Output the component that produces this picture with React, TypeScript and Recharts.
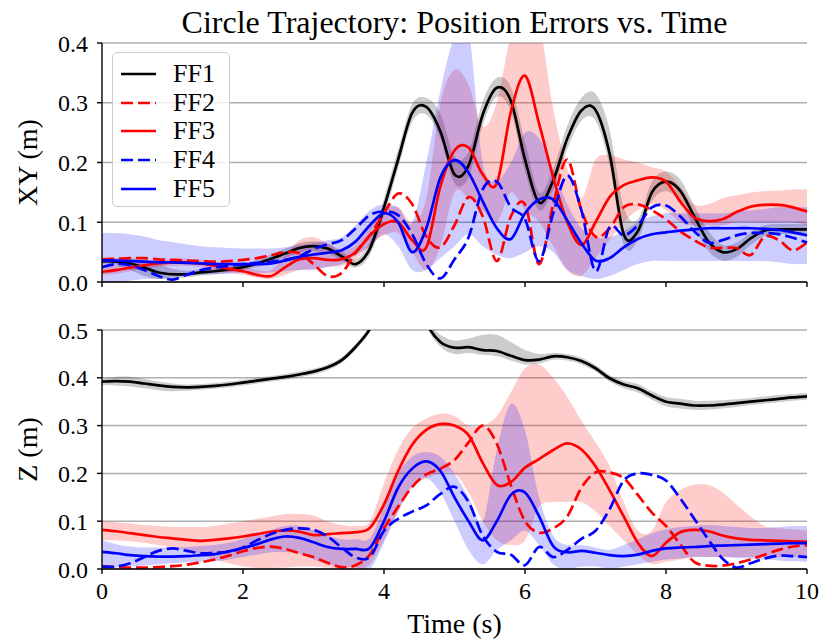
import React from 'react';
import { ComposedChart, Line, Area, XAxis, YAxis, CartesianGrid, Legend } from 'recharts';

const FONT = 'Liberation Serif, LiberationSerif, DejaVu Serif, Times New Roman, Times, Noto Serif, serif';

const times = [
  0, 0.2, 0.4, 0.6, 0.8, 1, 1.2, 1.4, 1.6, 1.8, 2, 2.2, 2.4, 2.6, 2.8, 3, 3.2, 3.4, 3.6, 3.8,
  4, 4.2, 4.4, 4.6, 4.8, 5, 5.2, 5.4, 5.6, 5.8, 6, 6.2, 6.4, 6.6, 6.8, 7, 7.2, 7.4, 7.6, 7.8,
  8, 8.2, 8.4, 8.6, 8.8, 9, 9.2, 9.4, 9.6, 9.8, 10,
];

const xTicks = [0, 2, 4, 6, 8, 10];
const xyTicks = [0, 0.1, 0.2, 0.3, 0.4];
const zTicks = [0, 0.1, 0.2, 0.3, 0.4, 0.5];

const seriesNames = ['FF1', 'FF2', 'FF3', 'FF4', 'FF5'];
const seriesColors = ['#000000', '#ff0000', '#ff0000', '#0000ff', '#0000ff'];
const seriesDashed = [false, true, false, true, false];

// ---------- XY errors ----------
const xyFF1 = [
  0.035, 0.034, 0.031, 0.024, 0.016, 0.013, 0.013, 0.016, 0.018, 0.021,
  0.025, 0.031, 0.039, 0.048, 0.057, 0.060, 0.056, 0.043, 0.030, 0.056,
  0.125, 0.205, 0.283, 0.293, 0.252, 0.180, 0.195, 0.280, 0.325, 0.303,
  0.205, 0.133, 0.170, 0.240, 0.287, 0.288, 0.215, 0.080, 0.085, 0.150,
  0.168, 0.153, 0.110, 0.068, 0.050, 0.055, 0.073, 0.086, 0.088, 0.088, 0.088,
];
const xyFF1Lo = [
  0.030, 0.028, 0.020, 0.010, 0.005, 0.006, 0.008, 0.011, 0.013, 0.016,
  0.020, 0.025, 0.032, 0.040, 0.049, 0.052, 0.048, 0.036, 0.024, 0.045,
  0.110, 0.190, 0.268, 0.280, 0.240, 0.165, 0.175, 0.262, 0.310, 0.285,
  0.185, 0.120, 0.155, 0.222, 0.270, 0.270, 0.195, 0.062, 0.070, 0.135,
  0.152, 0.135, 0.092, 0.052, 0.036, 0.042, 0.062, 0.077, 0.080, 0.080, 0.080,
];
const xyFF1Hi = [
  0.040, 0.040, 0.040, 0.037, 0.030, 0.022, 0.019, 0.021, 0.023, 0.026,
  0.030, 0.037, 0.046, 0.056, 0.065, 0.068, 0.064, 0.052, 0.038, 0.068,
  0.140, 0.222, 0.298, 0.308, 0.282, 0.210, 0.218, 0.302, 0.342, 0.326,
  0.235, 0.150, 0.190, 0.262, 0.308, 0.315, 0.255, 0.125, 0.105, 0.168,
  0.185, 0.172, 0.128, 0.086, 0.062, 0.066, 0.083, 0.095, 0.097, 0.097, 0.097,
];
const xyFF2 = [
  0.038, 0.039, 0.040, 0.040, 0.038, 0.037, 0.036, 0.035, 0.034, 0.035,
  0.037, 0.040, 0.045, 0.050, 0.048, 0.030, 0.010, 0.015, 0.050, 0.078,
  0.115, 0.148, 0.130, 0.076, 0.058, 0.095, 0.142, 0.110, 0.035, 0.110,
  0.130, 0.030, 0.130, 0.205, 0.120, 0.076, 0.090, 0.125, 0.130, 0.120,
  0.105, 0.085, 0.070, 0.058, 0.057, 0.057, 0.045, 0.076, 0.070, 0.053, 0.066,
];
const xyFF3 = [
  0.017, 0.020, 0.024, 0.028, 0.031, 0.033, 0.033, 0.031, 0.027, 0.022,
  0.018, 0.012, 0.010, 0.025, 0.038, 0.040, 0.037, 0.038, 0.050, 0.078,
  0.097, 0.100, 0.070, 0.058, 0.160, 0.220, 0.225, 0.180, 0.165, 0.285,
  0.345, 0.265, 0.175, 0.100, 0.062, 0.100, 0.142, 0.162, 0.170, 0.175,
  0.168, 0.135, 0.108, 0.102, 0.105, 0.117, 0.126, 0.129, 0.129, 0.125, 0.118,
];
const xyFF3Lo = [
  0.012, 0.014, 0.018, 0.022, 0.025, 0.027, 0.027, 0.025, 0.021, 0.016,
  0.012, 0.007, 0.005, 0.012, 0.020, 0.022, 0.025, 0.027, 0.038, 0.062,
  0.078, 0.082, 0.050, 0.020, 0.060, 0.150, 0.140, 0.120, 0.100, 0.150,
  0.120, 0.100, 0.060, 0.020, 0.010, 0.040, 0.070, 0.100, 0.120, 0.130,
  0.120, 0.100, 0.095, 0.095, 0.095, 0.100, 0.100, 0.100, 0.100, 0.100, 0.095,
];
const xyFF3Hi = [
  0.024, 0.027, 0.030, 0.034, 0.037, 0.039, 0.039, 0.037, 0.033, 0.028,
  0.025, 0.020, 0.020, 0.045, 0.070, 0.075, 0.065, 0.052, 0.062, 0.092,
  0.120, 0.125, 0.100, 0.140, 0.300, 0.355, 0.330, 0.260, 0.300, 0.410,
  0.430, 0.430, 0.290, 0.190, 0.140, 0.205, 0.212, 0.205, 0.200, 0.192,
  0.185, 0.160, 0.130, 0.130, 0.140, 0.145, 0.150, 0.152, 0.153, 0.155, 0.155,
];
const xyFF4 = [
  0.025, 0.030, 0.028, 0.020, 0.010, 0.004, 0.012, 0.020, 0.024, 0.027,
  0.030, 0.032, 0.034, 0.037, 0.043, 0.055, 0.063, 0.070, 0.090, 0.112,
  0.118, 0.112, 0.080, 0.030, 0.006, 0.038, 0.075, 0.155, 0.168, 0.125,
  0.105, 0.035, 0.115, 0.178, 0.120, 0.018, 0.092, 0.078, 0.095, 0.125,
  0.128, 0.110, 0.085, 0.066, 0.070, 0.078, 0.082, 0.082, 0.080, 0.074, 0.066,
];
const xyFF5 = [
  0.036, 0.036, 0.035, 0.034, 0.033, 0.033, 0.032, 0.031, 0.030, 0.030,
  0.030, 0.030, 0.031, 0.036, 0.042, 0.046, 0.049, 0.053, 0.068, 0.095,
  0.115, 0.100, 0.050, 0.090, 0.175, 0.204, 0.183, 0.135, 0.090, 0.072,
  0.115, 0.138, 0.138, 0.103, 0.065, 0.036, 0.040, 0.058, 0.072, 0.080,
  0.083, 0.086, 0.088, 0.090, 0.090, 0.090, 0.090, 0.089, 0.087, 0.083, 0.078,
];
const xyFF5Lo = [
  0.000, 0.000, 0.002, 0.005, 0.005, 0.008, 0.010, 0.012, 0.013, 0.014,
  0.015, 0.015, 0.016, 0.018, 0.020, 0.020, 0.025, 0.030, 0.045, 0.060,
  0.080, 0.060, 0.020, 0.020, 0.040, 0.060, 0.080, 0.060, 0.045, 0.040,
  0.050, 0.060, 0.050, 0.020, 0.010, 0.005, 0.010, 0.020, 0.030, 0.035,
  0.035, 0.035, 0.035, 0.035, 0.035, 0.035, 0.035, 0.035, 0.033, 0.030, 0.030,
];
const xyFF5Hi = [
  0.082, 0.082, 0.080, 0.076, 0.070, 0.067, 0.063, 0.060, 0.058, 0.057,
  0.056, 0.056, 0.056, 0.058, 0.062, 0.065, 0.070, 0.075, 0.095, 0.120,
  0.130, 0.125, 0.100, 0.200, 0.320, 0.410, 0.420, 0.200, 0.170, 0.200,
  0.250, 0.240, 0.190, 0.130, 0.090, 0.075, 0.075, 0.085, 0.100, 0.110,
  0.115, 0.115, 0.115, 0.115, 0.115, 0.118, 0.120, 0.122, 0.125, 0.125, 0.125,
];

// ---------- Z errors ----------
const zFF1 = [
  0.392, 0.393, 0.392, 0.388, 0.384, 0.381, 0.380, 0.381, 0.383, 0.386,
  0.390, 0.394, 0.398, 0.402, 0.407, 0.413, 0.422, 0.437, 0.465, 0.502,
  0.560, 0.600, 0.600, 0.515, 0.475, 0.463, 0.464, 0.458, 0.456, 0.446,
  0.437, 0.438, 0.445, 0.443, 0.435, 0.420, 0.399, 0.386, 0.378, 0.363,
  0.350, 0.346, 0.342, 0.342, 0.344, 0.347, 0.350, 0.353, 0.356, 0.359, 0.361,
];
const zFF1Lo = [
  0.385, 0.384, 0.382, 0.378, 0.374, 0.372, 0.373, 0.375, 0.377, 0.380,
  0.384, 0.388, 0.392, 0.396, 0.401, 0.407, 0.416, 0.431, 0.459, 0.496,
  0.554, 0.594, 0.594, 0.508, 0.465, 0.450, 0.452, 0.448, 0.445, 0.436,
  0.428, 0.430, 0.438, 0.436, 0.428, 0.413, 0.392, 0.378, 0.369, 0.354,
  0.340, 0.336, 0.333, 0.333, 0.336, 0.339, 0.343, 0.346, 0.349, 0.352, 0.354,
];
const zFF1Hi = [
  0.398, 0.402, 0.402, 0.398, 0.392, 0.388, 0.386, 0.387, 0.389, 0.392,
  0.396, 0.400, 0.404, 0.408, 0.413, 0.419, 0.428, 0.443, 0.471, 0.508,
  0.566, 0.606, 0.606, 0.522, 0.490, 0.478, 0.482, 0.490, 0.490, 0.475,
  0.458, 0.450, 0.452, 0.450, 0.442, 0.427, 0.406, 0.394, 0.387, 0.372,
  0.360, 0.356, 0.352, 0.352, 0.353, 0.355, 0.358, 0.361, 0.364, 0.366, 0.368,
];
const zFF2 = [
  0.005, 0.004, 0.003, 0.003, 0.004, 0.006, 0.009, 0.014, 0.020, 0.028,
  0.037, 0.044, 0.047, 0.042, 0.033, 0.025, 0.013, 0.004, 0.008, 0.030,
  0.085, 0.130, 0.172, 0.198, 0.210, 0.228, 0.265, 0.300, 0.262, 0.175,
  0.100, 0.076, 0.085, 0.110, 0.170, 0.202, 0.202, 0.190, 0.155, 0.118,
  0.090, 0.052, 0.015, 0.007, 0.007, 0.012, 0.020, 0.030, 0.040, 0.047, 0.050,
];
const zFF3 = [
  0.082, 0.079, 0.075, 0.071, 0.067, 0.064, 0.061, 0.059, 0.061, 0.064,
  0.068, 0.073, 0.078, 0.081, 0.078, 0.071, 0.073, 0.075, 0.077, 0.086,
  0.135, 0.205, 0.260, 0.291, 0.303, 0.300, 0.280, 0.222, 0.176, 0.182,
  0.212, 0.230, 0.249, 0.263, 0.250, 0.215, 0.165, 0.110, 0.055, 0.027,
  0.055, 0.077, 0.082, 0.079, 0.070, 0.064, 0.061, 0.060, 0.059, 0.058, 0.057,
];
const zRedLo = [
  0.060, 0.060, 0.058, 0.055, 0.050, 0.045, 0.040, 0.030, 0.020, 0.012,
  0.005, 0.002, 0.002, 0.003, 0.005, 0.005, 0.003, 0.000, 0.000, 0.010,
  0.060, 0.120, 0.170, 0.190, 0.200, 0.200, 0.160, 0.100, 0.060, 0.050,
  0.060, 0.130, 0.140, 0.140, 0.140, 0.120, 0.090, 0.060, 0.030, 0.010,
  0.015, 0.020, 0.025, 0.025, 0.025, 0.025, 0.025, 0.025, 0.025, 0.025, 0.025,
];
const zRedHi = [
  0.100, 0.098, 0.095, 0.092, 0.090, 0.088, 0.088, 0.088, 0.090, 0.095,
  0.100, 0.105, 0.110, 0.115, 0.115, 0.112, 0.100, 0.092, 0.090, 0.100,
  0.180, 0.250, 0.295, 0.315, 0.325, 0.320, 0.300, 0.300, 0.320, 0.370,
  0.420, 0.428, 0.400, 0.360, 0.310, 0.265, 0.215, 0.140, 0.080, 0.080,
  0.140, 0.165, 0.176, 0.176, 0.160, 0.135, 0.110, 0.090, 0.085, 0.083, 0.080,
];
const zFF4 = [
  0.005, 0.005, 0.012, 0.025, 0.038, 0.043, 0.038, 0.033, 0.034, 0.036,
  0.045, 0.060, 0.073, 0.082, 0.085, 0.082, 0.068, 0.045, 0.024, 0.025,
  0.080, 0.105, 0.120, 0.133, 0.157, 0.172, 0.140, 0.070, 0.036, 0.030,
  0.008, 0.046, 0.025, 0.040, 0.063, 0.080, 0.125, 0.185, 0.200, 0.197,
  0.185, 0.148, 0.105, 0.062, 0.022, 0.003, 0.012, 0.022, 0.028, 0.027, 0.025,
];
const zFF5 = [
  0.036, 0.033, 0.029, 0.027, 0.026, 0.026, 0.027, 0.029, 0.031, 0.037,
  0.044, 0.052, 0.062, 0.068, 0.065, 0.056, 0.046, 0.042, 0.042, 0.044,
  0.100, 0.170, 0.210, 0.225, 0.205, 0.150, 0.100, 0.060, 0.100, 0.155,
  0.160, 0.110, 0.048, 0.035, 0.038, 0.034, 0.029, 0.027, 0.030, 0.038,
  0.043, 0.045, 0.046, 0.048, 0.049, 0.050, 0.051, 0.052, 0.053, 0.054, 0.054,
];
const zBlueLo = [
  0.000, 0.003, 0.005, 0.008, 0.010, 0.012, 0.014, 0.015, 0.016, 0.020,
  0.025, 0.030, 0.035, 0.035, 0.032, 0.020, 0.010, 0.005, 0.003, 0.000,
  0.055, 0.120, 0.175, 0.190, 0.160, 0.100, 0.040, 0.010, 0.040, 0.060,
  0.080, 0.050, 0.010, 0.000, 0.005, 0.005, 0.000, 0.005, 0.010, 0.015,
  0.020, 0.022, 0.025, 0.025, 0.025, 0.023, 0.022, 0.020, 0.018, 0.016, 0.015,
];
const zBlueHi = [
  0.060, 0.052, 0.047, 0.045, 0.045, 0.045, 0.046, 0.048, 0.050, 0.055,
  0.063, 0.072, 0.082, 0.090, 0.090, 0.082, 0.070, 0.062, 0.062, 0.065,
  0.130, 0.200, 0.235, 0.245, 0.235, 0.200, 0.150, 0.100, 0.250, 0.345,
  0.290, 0.150, 0.070, 0.050, 0.050, 0.045, 0.040, 0.050, 0.062, 0.075,
  0.083, 0.088, 0.090, 0.092, 0.090, 0.088, 0.086, 0.086, 0.088, 0.090, 0.090,
];

const topData = times.map((t, i) => ({
  t,
  ff1: xyFF1[i],
  ff2: xyFF2[i],
  ff3: xyFF3[i],
  ff4: xyFF4[i],
  ff5: xyFF5[i],
  bandBlack: [xyFF1Lo[i], xyFF1Hi[i]],
  bandRed: [xyFF3Lo[i], xyFF3Hi[i]],
  bandBlue: [xyFF5Lo[i], xyFF5Hi[i]],
}));

const bottomData = times.map((t, i) => ({
  t,
  ff1: zFF1[i],
  ff2: zFF2[i],
  ff3: zFF3[i],
  ff4: zFF4[i],
  ff5: zFF5[i],
  bandBlack: [zFF1Lo[i], zFF1Hi[i]],
  bandRed: [zRedLo[i], zRedHi[i]],
  bandBlue: [zBlueLo[i], zBlueHi[i]],
}));

// Smooth curve through the sample points (Catmull-Rom), used as a d3-style curve factory.
const smoothCurve: any = (context: any) => {
  let lineFlag = NaN;
  let pts: number[][] = [];
  return {
    areaStart() {
      lineFlag = 0;
    },
    areaEnd() {
      lineFlag = NaN;
    },
    lineStart() {
      pts = [];
    },
    lineEnd() {
      const n = pts.length;
      if (n > 0) {
        if (lineFlag) context.lineTo(pts[0][0], pts[0][1]);
        else context.moveTo(pts[0][0], pts[0][1]);
        for (let i = 0; i < n - 1; i++) {
          const p0 = pts[i - 1] || pts[i];
          const p1 = pts[i];
          const p2 = pts[i + 1];
          const p3 = pts[i + 2] || p2;
          context.bezierCurveTo(
            p1[0] + (p2[0] - p0[0]) / 6,
            p1[1] + (p2[1] - p0[1]) / 6,
            p2[0] - (p3[0] - p1[0]) / 6,
            p2[1] - (p3[1] - p1[1]) / 6,
            p2[0],
            p2[1],
          );
        }
      }
      if (lineFlag || (lineFlag !== 0 && n === 1)) context.closePath();
      lineFlag = 1 - lineFlag;
    },
    point(x: number, y: number) {
      pts.push([+x, +y]);
    },
  };
};

const LW = 2.7;
const DASH = '12 5';
const axisStyle = { stroke: '#000', strokeWidth: 1.4 };
const tickFont = { fontSize: 24, fill: '#000', fontFamily: FONT };

function LegendBox() {
  return (
    <div
      style={{
        width: 118,
        height: 155,
        boxSizing: 'border-box',
        border: '1.2px solid #cccccc',
        borderRadius: 5,
        background: 'rgba(255,255,255,0.8)',
        fontFamily: FONT,
        fontSize: 26,
        position: 'relative',
        color: '#000',
      }}
    >
      {seriesNames.map((name, i) => (
        <div
          key={name}
          style={{ position: 'absolute', left: 0, top: 7 + i * 28.7, height: 28, display: 'flex', alignItems: 'center' }}
        >
          <svg width={50} height={28} style={{ display: 'block' }}>
            <line
              x1={8}
              x2={43}
              y1={14}
              y2={14}
              stroke={seriesColors[i]}
              strokeWidth={LW}
              strokeDasharray={seriesDashed[i] ? DASH : undefined}
            />
          </svg>
          <span style={{ marginLeft: 10, lineHeight: '28px' }}>{name}</span>
        </div>
      ))}
    </div>
  );
}

function yLabel(text: string) {
  return (props: any) => {
    const vb = props.viewBox || {};
    const cy = (vb.y || 0) + (vb.height || 0) / 2;
    const cx = 27;
    return (
      <text
        x={cx}
        y={cy}
        transform={`rotate(-90, ${cx}, ${cy})`}
        textAnchor="middle"
        dominantBaseline="central"
        fontFamily={FONT}
        fontSize={28}
        fill="#000"
      >
        {text}
      </text>
    );
  };
}

function xLabel(text: string) {
  return (props: any) => {
    const vb = props.viewBox || {};
    const cx = (vb.x || 0) + (vb.width || 0) / 2;
    const cy = (vb.y || 0) + 54;
    return (
      <text x={cx} y={cy} textAnchor="middle" dominantBaseline="central" fontFamily={FONT} fontSize={28} fill="#000">
        {text}
      </text>
    );
  };
}

function seriesMarks() {
  return [
    <Area key="bb" dataKey="bandBlack" type={smoothCurve} stroke="none" fill="#000000" fillOpacity={0.2} isAnimationActive={false} dot={false} activeDot={false} />,
    <Line key="l1" dataKey="ff1" type={smoothCurve} stroke={seriesColors[0]} strokeWidth={LW} dot={false} activeDot={false} isAnimationActive={false} />,
    <Line key="l2" dataKey="ff2" type={smoothCurve} stroke={seriesColors[1]} strokeWidth={LW} strokeDasharray={DASH} dot={false} activeDot={false} isAnimationActive={false} />,
    <Area key="br" dataKey="bandRed" type={smoothCurve} stroke="none" fill="#ff0000" fillOpacity={0.2} isAnimationActive={false} dot={false} activeDot={false} />,
    <Line key="l3" dataKey="ff3" type={smoothCurve} stroke={seriesColors[2]} strokeWidth={LW} dot={false} activeDot={false} isAnimationActive={false} />,
    <Line key="l4" dataKey="ff4" type={smoothCurve} stroke={seriesColors[3]} strokeWidth={LW} strokeDasharray={DASH} dot={false} activeDot={false} isAnimationActive={false} />,
    <Area key="bl" dataKey="bandBlue" type={smoothCurve} stroke="none" fill="#0000ff" fillOpacity={0.2} isAnimationActive={false} dot={false} activeDot={false} />,
    <Line key="l5" dataKey="ff5" type={smoothCurve} stroke={seriesColors[4]} strokeWidth={LW} dot={false} activeDot={false} isAnimationActive={false} />,
  ];
}

export default function App() {
  return (
    <div style={{ position: 'absolute', left: 0, top: 0, width: 822, height: 642, background: '#fff', fontFamily: FONT }}>
      <div
        style={{
          position: 'absolute',
          left: 102,
          width: 705,
          top: 5,
          textAlign: 'center',
          fontSize: 32,
          lineHeight: '34px',
          color: '#000',
          fontFamily: FONT,
          whiteSpace: 'nowrap',
        }}
      >
        Circle Trajectory: Position Errors vs. Time
      </div>

      <div style={{ position: 'absolute', left: 0, top: 0 }}>
        <ComposedChart width={822} height={300} data={topData} margin={{ top: 43, right: 15, bottom: 0, left: 42 }}>
          <CartesianGrid vertical={false} stroke="#b0b0b0" strokeWidth={1.5} />
          <XAxis
            dataKey="t"
            type="number"
            domain={[0, 10]}
            ticks={xTicks}
            tickFormatter={() => ''}
            tickSize={5}
            height={18}
            axisLine={axisStyle}
            tickLine={axisStyle}
          />
          <XAxis xAxisId="top" orientation="top" dataKey="t" type="number" domain={[0, 10]} height={0} tick={false} tickLine={false} axisLine={axisStyle} />
          <YAxis
            type="number"
            domain={[0, 0.4]}
            allowDataOverflow
            ticks={xyTicks}
            tickFormatter={(v: number) => v.toFixed(1)}
            tick={tickFont}
            tickSize={5}
            tickMargin={9}
            width={60}
            axisLine={axisStyle}
            tickLine={axisStyle}
            label={yLabel('XY (m)')}
          />
          <YAxis yAxisId="right" orientation="right" type="number" domain={[0, 0.4]} width={0} tick={false} tickLine={false} axisLine={axisStyle} />
          {seriesMarks()}
          <Legend
            layout="vertical"
            align="center"
            verticalAlign="middle"
            wrapperStyle={{ left: 112, top: 52, width: 118, height: 155 }}
            content={() => <LegendBox />}
          />
        </ComposedChart>
      </div>

      <div style={{ position: 'absolute', left: 0, top: 300 }}>
        <ComposedChart width={822} height={342} data={bottomData} margin={{ top: 30, right: 15, bottom: 0, left: 42 }}>
          <CartesianGrid vertical={false} stroke="#b0b0b0" strokeWidth={1.5} />
          <XAxis
            dataKey="t"
            type="number"
            domain={[0, 10]}
            ticks={xTicks}
            tick={tickFont}
            tickSize={5}
            tickMargin={8}
            height={73}
            axisLine={axisStyle}
            tickLine={axisStyle}
            label={xLabel('Time (s)')}
          />
          <XAxis xAxisId="top" orientation="top" dataKey="t" type="number" domain={[0, 10]} height={0} tick={false} tickLine={false} axisLine={axisStyle} />
          <YAxis
            type="number"
            domain={[0, 0.5]}
            allowDataOverflow
            ticks={zTicks}
            tickFormatter={(v: number) => v.toFixed(1)}
            tick={tickFont}
            tickSize={5}
            tickMargin={9}
            width={60}
            axisLine={axisStyle}
            tickLine={axisStyle}
            label={yLabel('Z (m)')}
          />
          <YAxis yAxisId="right" orientation="right" type="number" domain={[0, 0.5]} width={0} tick={false} tickLine={false} axisLine={axisStyle} />
          {seriesMarks()}
        </ComposedChart>
      </div>
    </div>
  );
}
